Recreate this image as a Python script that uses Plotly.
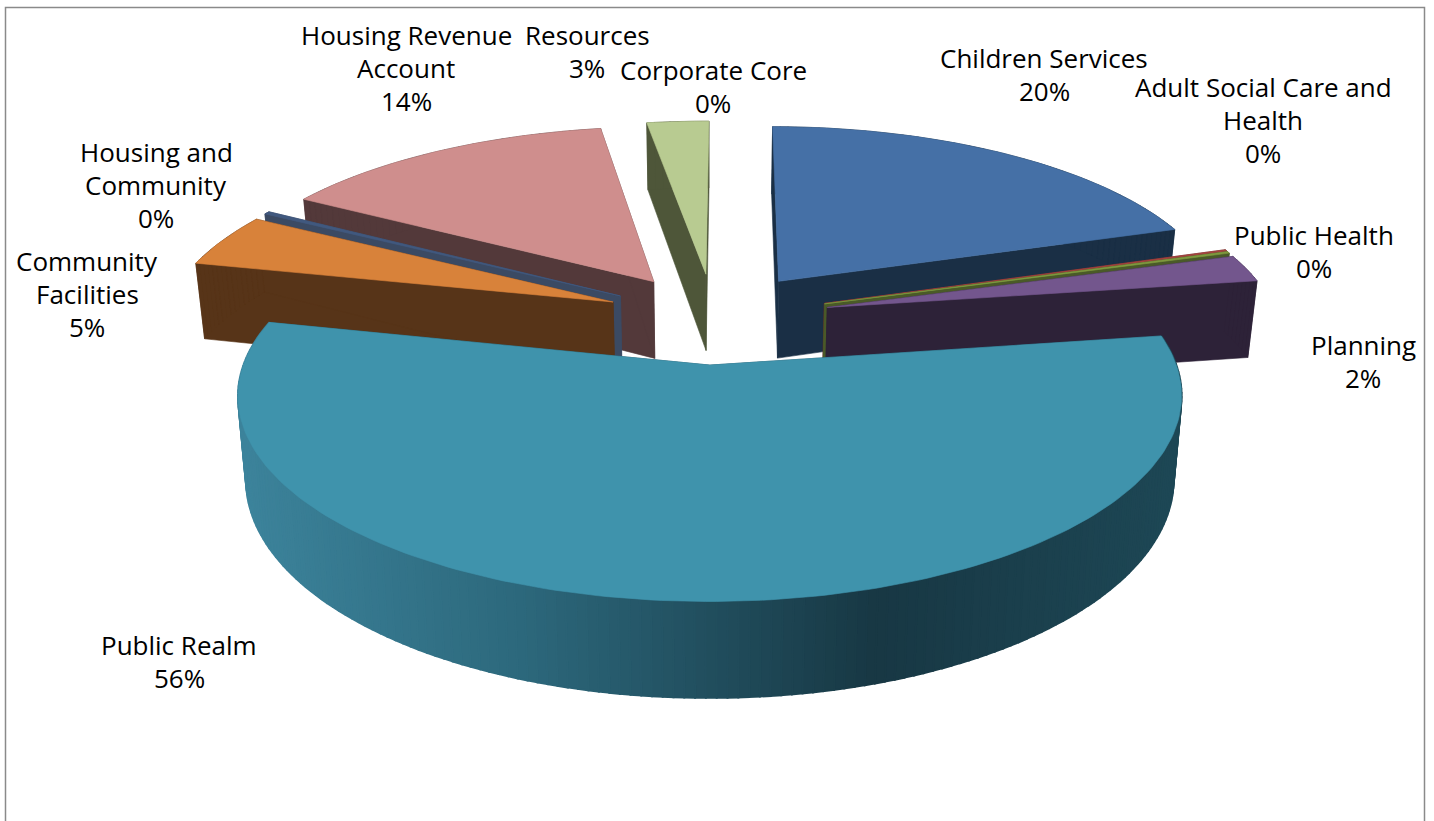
import math
import plotly.graph_objects as go

# Budget share by service area, clockwise from twelve o'clock
categories = ["Children Services", "Adult Social Care and Health", "Public Health", "Planning",
              "Public Realm", "Community Facilities", "Housing and Community",
              "Housing Revenue Account", "Resources", "Corporate Core"]
values = [19.95, 0.15, 0.15, 2.3, 55.89, 4.55, 0.25, 14.16, 2.6, 0.0]
explosion = [0.25, 0.26, 0.26, 0.26, 0.243, 0.243, 0.243, 0.243, 0.243, 0.243]

top_colors = ["#4570a6", "#a5433f", "#7f9a3f", "#73568d", "#3f93ac", "#d8823a",
              "#41597f", "#cf8e8d", "#b8cb91", "#3f93ac"]
wall_colors = ["#1a2f45", "#5a2a28", "#4a5a28", "#2d2238", "#1f4a5a", "#573418",
               "#3b4a63", "#53393a", "#4e5639", "#1f4a5a"]

# Category text broken over lines, with the centre and first row of each block
label_lines = [["Children Services"], ["Adult Social Care and", "Health"], ["Public Health"], ["Planning"],
               ["Public Realm"], ["Community", "Facilities"], ["Housing and", "Community"],
               ["Housing Revenue", "Account"], ["Resources"], ["Corporate Core"]]
label_anchor = [(1044, 58), (1263, 87), (1314, 235), (1363, 345), (179, 645), (87, 261),
                (156, 152), (406, 35), (587, 35), (713, 70)]
LINE_STEP = 33

# Perspective model of the tilted pie
CX, CY = 714, 318
SCALE_X, SCALE_Y = 450, 187
PERSPECTIVE = 0.145
DEPTH = 79
BASE_SHRINK = 0.983
FIRST_ANGLE = 0.3 * math.pi / 180
PAINT_ORDER = [9, 8, 7, 6, 5, 0, 1, 2, 3, 4]


def project(theta, radius, mid, explode):
    """Map a point of the pie plane to the top face and the base of the drum."""
    gx = radius * math.sin(theta) + explode * math.sin(mid)
    gy = radius * math.cos(theta) + explode * math.cos(mid)
    d = 1 / (1 + PERSPECTIVE * gy)
    x = CX + SCALE_X * gx * d
    y = CY - SCALE_Y * gy * d
    return (x, y), (CX + (x - CX) * BASE_SHRINK, y + DEPTH * d)


def polygon(points, color, width=0.6):
    xs = [p[0] for p in points] + [points[0][0]]
    ys = [p[1] for p in points] + [points[0][1]]
    return go.Scatter(x=xs, y=ys, mode="lines", fill="toself", fillcolor=color,
                      line=dict(color=color, width=width), hoverinfo="skip", showlegend=False)


def mix(stops, pos):
    for (p0, c0), (p1, c1) in zip(stops, stops[1:]):
        if pos <= p1:
            t = (pos - p0) / (p1 - p0)
            return "rgb(%d,%d,%d)" % tuple(c0[i] + (c1[i] - c0[i]) * t for i in range(3))
    return "rgb(%d,%d,%d)" % stops[-1][1]


# Shading of the large slice's rim, keyed by position across the drum
RIM_SHADE = [(0.0, (61, 132, 156)), (0.3, (45, 105, 125)), (0.68, (24, 56, 68)),
             (1.0, (30, 72, 86))]

bounds = [0.0]
for v in values:
    bounds.append(bounds[-1] + v)
total = bounds[-1]

fig = go.Figure()
for i in PAINT_ORDER:
    if values[i] == 0:
        continue
    start = bounds[i] / total * 2 * math.pi + FIRST_ANGLE
    end = bounds[i + 1] / total * 2 * math.pi + FIRST_ANGLE
    mid = (start + end) / 2
    n = max(2, int((end - start) / 0.02))
    angles = [start + (end - start) * k / n for k in range(n + 1)]
    rim = [project(t, 1, mid, explosion[i]) for t in angles]
    apex_top, apex_base = project(0, 0, mid, explosion[i])
    shaded = categories[i] == "Public Realm"

    # Radial walls, then the curved rim, then the top face
    fig.add_trace(polygon([apex_top, rim[0][0], rim[0][1], apex_base], wall_colors[i]))
    fig.add_trace(polygon([apex_top, rim[-1][0], rim[-1][1], apex_base], wall_colors[i]))
    for k in range(n):
        color = wall_colors[i]
        width = 0.6
        if shaded:
            pos = (rim[k][0][0] - 237) / (1183 - 237)
            color = mix(RIM_SHADE, max(0, min(1, pos)))
            width = 2
        fig.add_trace(polygon([rim[k][0], rim[k + 1][0], rim[k + 1][1], rim[k][1]], color, width))
    fig.add_trace(polygon([apex_top] + [r[0] for r in rim], top_colors[i]))

annotations = []
for lines, (ax, ay), v in zip(label_lines, label_anchor, values):
    for row, text in enumerate(lines + [f"{v / total * 100:.0f}%"]):
        annotations.append(dict(x=ax, y=ay + row * LINE_STEP, xref="x", yref="y", text=text,
                                showarrow=False, xanchor="center", yanchor="middle",
                                font=dict(family="Open Sans", size=26, color="#000000")))

fig.update_layout(
    width=1434, height=821, margin=dict(l=0, r=0, t=0, b=0),
    paper_bgcolor="#ffffff", plot_bgcolor="#ffffff", showlegend=False,
    xaxis=dict(range=[0, 1434], visible=False, fixedrange=True),
    yaxis=dict(range=[821, 0], visible=False, fixedrange=True),
    annotations=annotations,
    shapes=[dict(type="path", path="M5.5,821 L5.5,7.5 L1424.5,7.5 L1424.5,821", xref="x", yref="y",
                 line=dict(color="#8a8a8a", width=1.5))],
)
fig.write_html("out.html")
